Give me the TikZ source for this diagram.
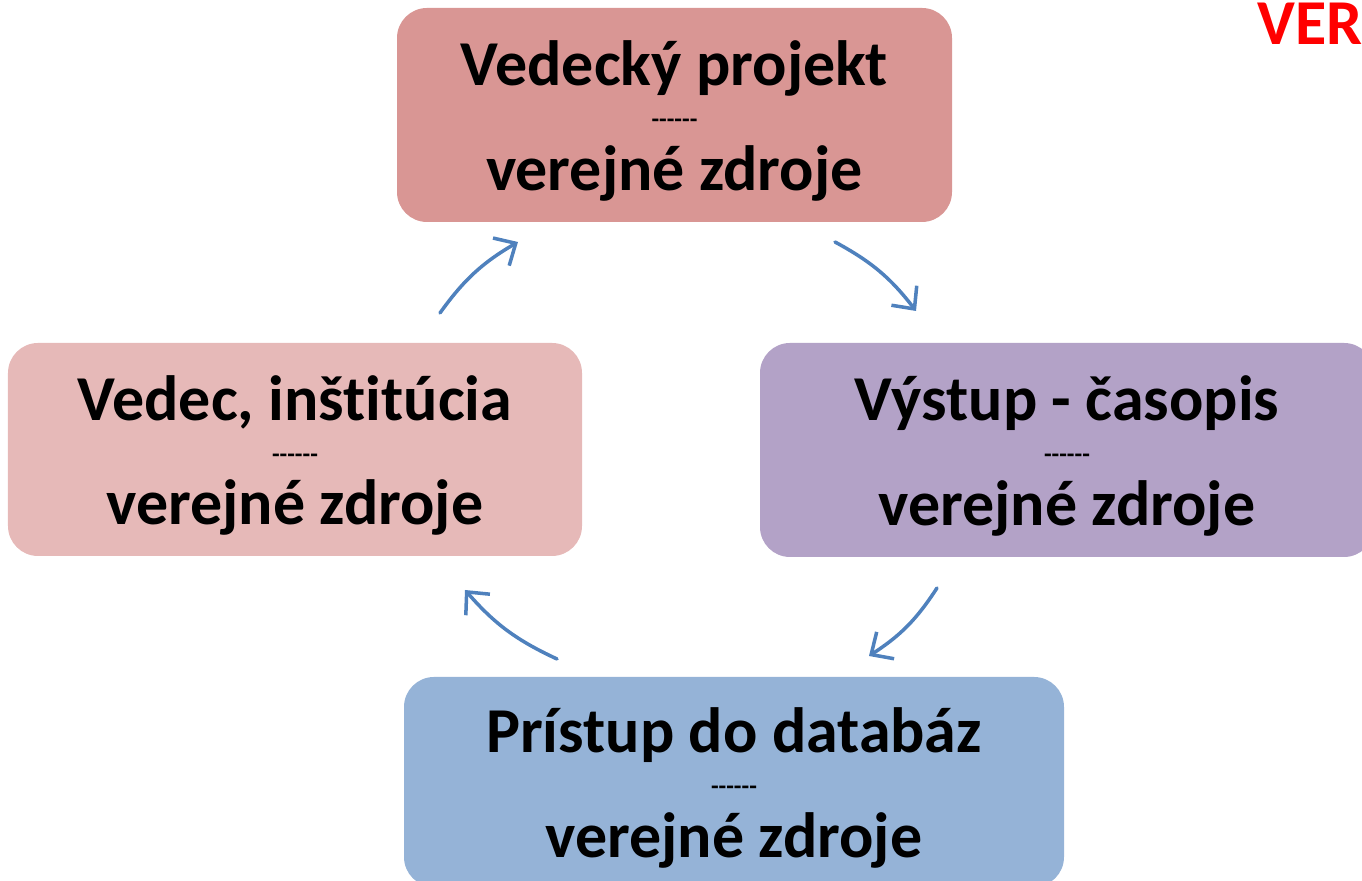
\documentclass[tikz,border=0pt]{standalone}
\usepackage{fontspec}
\setmainfont{Carlito}[Ligatures={NoCommon}]
\usetikzlibrary{arrows.meta,calc}
\definecolor{boxTop}{RGB}{217,150,148}
\definecolor{boxLeft}{RGB}{230,185,184}
\definecolor{boxRight}{RGB}{179,162,199}
\definecolor{boxBottom}{RGB}{149,179,215}
\definecolor{arrowBlue}{RGB}{79,129,189}
\tikzset{
  panel/.style={rectangle, rounded corners=0.3cm, inner sep=0pt, draw=none},
  bigtxt/.style={font=\fontsize{18.2pt}{20pt}\selectfont\bfseries, inner sep=0pt, anchor=base},
  dashtxt/.style={font=\fontsize{7.1pt}{8pt}\selectfont\bfseries, inner sep=0pt, anchor=base},
  cyc/.style={draw=arrowBlue, line width=1pt, line cap=round, bend left=12,
    -{Straight Barb[length=0.17cm, width=0.32cm, line width=1pt]}}
}
\begin{document}
\begin{tikzpicture}
\useasboundingbox (0,0) rectangle (13.62,8.81);
\clip (0,0) rectangle (13.62,8.81);

% panels
\node[panel, fill=boxTop, minimum width=5.55cm, minimum height=2.14cm] (top) at (6.745,7.66) {};
\node[panel, fill=boxLeft, minimum width=5.74cm, minimum height=2.13cm] (left) at (2.95,4.315) {};
\node[panel, fill=boxRight, minimum width=6.14cm, minimum height=2.14cm] (right) at (10.67,4.31) {};
\node[panel, fill=boxBottom, minimum width=6.60cm, minimum height=2.10cm] (bottom) at (7.34,0.99) {};

% texts
\foreach \b/\t in {top/Vedecký projekt, left/{Vedec, inštitúcia}, right/Výstup - časopis, bottom/Prístup do databáz}{
  \node[bigtxt] (\b-a) at ($(\b.center)+(0,0.29)$) {\t};
  \node[dashtxt] (\b-d) at ($(\b.center)+(0,-0.13)$) {{-}{-}{-}{-}{-}{-}};
  \node[bigtxt] (\b-b) at ($(\b.center)+(0,-0.755)$) {verejné zdroje};
}

% red label
\node[font=\fontsize{18.2pt}{20pt}\selectfont\bfseries, text=red, inner sep=0pt, anchor=base west] (ver) at (12.57,8.36) {VER};

% cycle arrows
\coordinate (a1s) at (4.40,5.68);
\coordinate (a1e) at (5.18,6.39);
\coordinate (a2s) at (8.35,6.39);
\coordinate (a2e) at (9.16,5.70);
\coordinate (a3s) at (9.37,2.93);
\coordinate (a3e) at (8.69,2.25);
\coordinate (a4s) at (5.57,2.22);
\coordinate (a4e) at (4.65,2.91);
\draw[cyc] (a1s) to (a1e);
\draw[cyc] (a2s) to (a2e);
\draw[cyc] (a3s) to (a3e);
\draw[cyc] (a4s) to (a4e);
\end{tikzpicture}
\end{document}
